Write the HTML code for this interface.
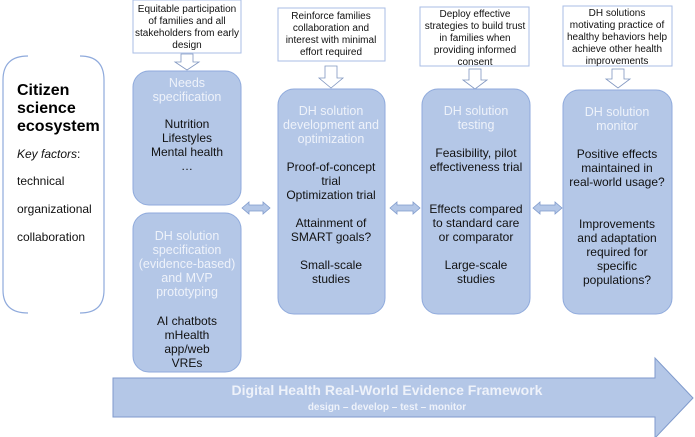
<!DOCTYPE html>
<html><head><meta charset="utf-8"><style>
html,body{margin:0;padding:0;background:#fff}
svg{display:block}
text{font-family:"Liberation Sans",sans-serif}
.n{font-size:10px;fill:#111}
.t{font-size:12.5px;fill:#eef2fa}
.b{font-size:12px;fill:#111}
</style></head><body>
<svg width="695" height="437" viewBox="0 0 695 437" xmlns="http://www.w3.org/2000/svg">
<path d="M28,56 Q3,56 3,80 L3,290 Q3,313 28,313" fill="none" stroke="#8faadc" stroke-width="1.2"/>
<path d="M80,56 Q104,56 104,80 L104,290 Q104,313 80,313" fill="none" stroke="#8faadc" stroke-width="1.2"/>
<text x="17" y="95" style="font-size:16px;font-weight:bold" fill="#000">Citizen</text>
<text x="17" y="113" style="font-size:16px;font-weight:bold" fill="#000">science</text>
<text x="17" y="131" style="font-size:16px;font-weight:bold" fill="#000">ecosystem</text>
<text x="17" y="158" class="b" font-style="italic">Key factors<tspan font-style="normal">:</tspan></text>
<text x="17" y="185" class="b">technical</text>
<text x="17" y="213" class="b">organizational</text>
<text x="17" y="241" class="b">collaboration</text>

<g fill="#fff" stroke="#a9bde6" stroke-width="1">
<rect x="133" y="0" width="108" height="53"/>
<rect x="278" y="8" width="107" height="53"/>
<rect x="420" y="7" width="109" height="59"/>
<rect x="563" y="6" width="109" height="60"/>
</g>
<g class="n" text-anchor="middle">
<text x="187" y="12">Equitable participation</text>
<text x="187" y="24">of families and all</text>
<text x="187" y="36">stakeholders from early</text>
<text x="187" y="48">design</text>
<text x="331" y="19">Reinforce families</text>
<text x="331" y="31">collaboration and</text>
<text x="331" y="43">interest with minimal</text>
<text x="331" y="55">effort required</text>
<text x="475" y="17">Deploy effective</text>
<text x="475" y="29">strategies to build trust</text>
<text x="475" y="41">in families when</text>
<text x="475" y="53">providing informed</text>
<text x="475" y="65">consent</text>
<text x="617" y="16">DH solutions</text>
<text x="617" y="28">motivating practice of</text>
<text x="617" y="40">healthy behaviors help</text>
<text x="617" y="52">achieve other health</text>
<text x="617" y="64">improvements</text>
</g>
<g fill="#fff" stroke="#8096c0" stroke-width="0.8">
<path d="M181,54 h12 v8 h6 l-12,8 l-12,-8 h6 z"/>
<path d="M325,66 h12 v12 h6 l-12,10 l-12,-10 h6 z"/>
<path d="M469,69 h12 v11 h6 l-12,9 l-12,-9 h6 z"/>
<path d="M612,69 h12 v10 h6 l-12,9 l-12,-9 h6 z"/>
</g>

<g fill="#b4c7e7" stroke="#8faadc" stroke-width="1">
<rect x="133" y="71" width="108" height="134" rx="16"/>
<rect x="133" y="213" width="108" height="159" rx="16"/>
<rect x="278" y="89" width="107" height="225" rx="16"/>
<rect x="422" y="89" width="108" height="225" rx="16"/>
<rect x="563" y="90" width="109" height="224" rx="16"/>
</g>
<g text-anchor="middle">
<text x="187" y="87" class="t">Needs</text>
<text x="187" y="101" class="t">specification</text>
<text x="187" y="128" class="b">Nutrition</text>
<text x="187" y="142" class="b">Lifestyles</text>
<text x="187" y="156" class="b">Mental health</text>
<text x="187" y="170" class="b">…</text>

<text x="187" y="240" class="t">DH solution</text>
<text x="187" y="254" class="t">specification</text>
<text x="187" y="268" class="t">(evidence-based)</text>
<text x="187" y="282" class="t">and MVP</text>
<text x="187" y="296" class="t">prototyping</text>
<text x="187" y="325" class="b">AI chatbots</text>
<text x="187" y="339" class="b">mHealth</text>
<text x="187" y="353" class="b">app/web</text>
<text x="187" y="367" class="b">VREs</text>

<text x="331" y="115" class="t">DH solution</text>
<text x="331" y="129" class="t">development and</text>
<text x="331" y="143" class="t">optimization</text>
<text x="331" y="171" class="b">Proof-of-concept</text>
<text x="331" y="185" class="b">trial</text>
<text x="331" y="199" class="b">Optimization trial</text>
<text x="331" y="227" class="b">Attainment of</text>
<text x="331" y="241" class="b">SMART goals?</text>
<text x="331" y="269" class="b">Small-scale</text>
<text x="331" y="283" class="b">studies</text>

<text x="476" y="115" class="t">DH solution</text>
<text x="476" y="129" class="t">testing</text>
<text x="476" y="157" class="b">Feasibility, pilot</text>
<text x="476" y="171" class="b">effectiveness trial</text>
<text x="476" y="213" class="b">Effects compared</text>
<text x="476" y="227" class="b">to standard care</text>
<text x="476" y="241" class="b">or comparator</text>
<text x="476" y="269" class="b">Large-scale</text>
<text x="476" y="283" class="b">studies</text>

<text x="617" y="116" class="t">DH solution</text>
<text x="617" y="130" class="t">monitor</text>
<text x="617" y="158" class="b">Positive effects</text>
<text x="617" y="172" class="b">maintained in</text>
<text x="617" y="186" class="b">real-world usage?</text>
<text x="617" y="228" class="b">Improvements</text>
<text x="617" y="242" class="b">and adaptation</text>
<text x="617" y="256" class="b">required for</text>
<text x="617" y="270" class="b">specific</text>
<text x="617" y="284" class="b">populations?</text>
</g>

<g fill="#b4c7e7" stroke="#7f9acc" stroke-width="0.8">
<path d="M242,208 l7,-6 v3 h14 v-3 l7,6 l-7,6 v-3 h-14 v3 z"/>
<path d="M390,208 l7,-6 v3 h16 v-3 l7,6 l-7,6 v-3 h-16 v3 z"/>
<path d="M533,208 l7,-6 v3 h15 v-3 l7,6 l-7,6 v-3 h-15 v3 z"/>
</g>

<path d="M113,378 H655 V358 L693,398 L655,438 V417 H113 Z" fill="#b4c7e7" stroke="#7f9acc" stroke-width="1"/>
<text x="387" y="395" text-anchor="middle" style="font-size:14px;font-weight:bold" fill="#eef2fa">Digital Health Real-World Evidence Framework</text>
<text x="387" y="410" text-anchor="middle" style="font-size:10px;font-weight:bold" fill="#eef2fa">design – develop – test – monitor</text>
</svg>
</body></html>
